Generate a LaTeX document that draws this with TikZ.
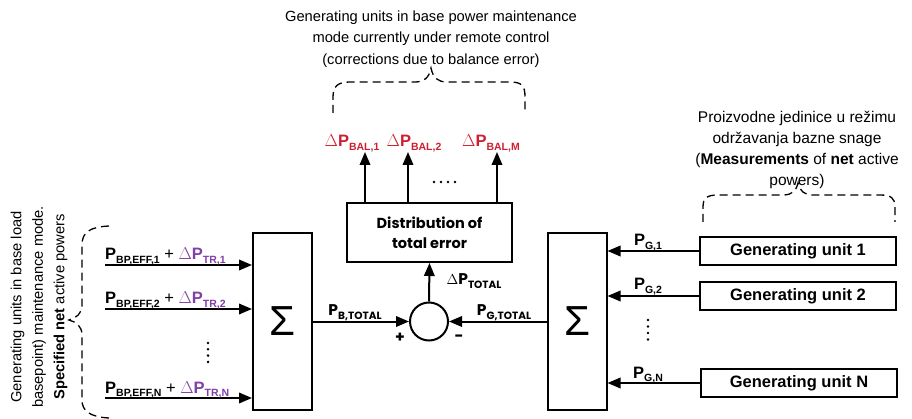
\documentclass[tikz,border=0pt]{standalone}
\usepackage{fontspec}
\setmainfont{Liberation Sans}
\newfontfamily\gothic{Poppins}
\usetikzlibrary{arrows.meta,positioning,calc}
\definecolor{balred}{RGB}{204,32,48}
\definecolor{trpurple}{RGB}{128,64,168}
\newcommand{\lsub}[1]{\raisebox{-0.45ex}{\fontsize{10.5}{11}\selectfont\bfseries #1}}
\newcommand{\sigP}[1]{\textbf{P}\lsub{#1}}
\newcommand{\dP}[1]{$\Delta$\textbf{P}\lsub{#1}}
\tikzset{
  sumbox/.style={draw, line width=2pt, minimum width=59pt, minimum height=177pt,
                 inner sep=0pt, font=\fontsize{42}{42}\selectfont},
  unitbox/.style={draw, line width=2pt, minimum width=196pt, minimum height=28pt,
                  inner sep=0pt, font=\fontsize{16.5}{18}\selectfont\bfseries},
  distbox/.style={draw, line width=2pt, minimum width=165pt, minimum height=59pt,
                  inner sep=0pt, align=center, font=\fontsize{14.5}{20}\selectfont\gothic\bfseries},
  errnode/.style={draw, circle, line width=2pt, minimum size=38pt, inner sep=0pt},
  sigarrow/.style={line width=2pt, -{Triangle[length=13pt,width=10.5pt]}},
  brace/.style={line width=1.3pt, dash pattern=on 8pt off 5pt},
  lbl/.style={font=\fontsize{16.5}{18}\selectfont, inner sep=0pt},
  glbl/.style={font=\fontsize{15.5}{17}\selectfont\gothic\bfseries, inner sep=0pt},
  note/.style={font=\fontsize{14.7}{21.5}\selectfont, align=center, inner sep=0pt},
}
\begin{document}
\begin{tikzpicture}[x=1pt, y=-1pt]
  \useasboundingbox (0,0) rectangle (912,419);
  % Summing blocks and comparator
  \node[sumbox] (lsum) at (282.5,321.5) {Σ};
  \node[sumbox] (rsum) at (577,321.5) {Σ};
  \node[errnode] (err) at (429,321.5) {};
  \node[distbox] (dist) at (429.5,232.5) {Distribution of\\total error};
  % Generating units
  \node[unitbox] (u1) at (798,251) {Generating unit 1};
  \node[unitbox] (u2) at (798,296) {Generating unit 2};
  \node[unitbox] (uN) at (799,383) {Generating unit N};
  \draw[sigarrow] (u1.west) -- (u1.west -| rsum.east);
  \draw[sigarrow] (u2.west) -- (u2.west -| rsum.east);
  \draw[sigarrow] (uN.west) -- (uN.west -| rsum.east);
  \node[lbl, anchor=base] (pg1) at (648,246) {\sigP{G,1}};
  \node[lbl, anchor=base] (pg2) at (648,290) {\sigP{G,2}};
  \node[lbl, anchor=base] (pgN) at (648,378) {\sigP{G,N}};
  \foreach \i in {0,...,3} \fill (648,320+\i*6.5) circle (1.4pt);
  % Base point inputs
  \coordinate (in1) at (105,265);
  \coordinate (in2) at (105,309);
  \coordinate (inN) at (105,398);
  \draw[sigarrow] (in1) -- (in1 -| lsum.west);
  \draw[sigarrow] (in2) -- (in2 -| lsum.west);
  \draw[sigarrow] (inN) -- (inN -| lsum.west);
  \node[lbl, anchor=base west] (pbp1) at (105,260) {\sigP{BP,EFF,1} + \textcolor{trpurple}{\dP{TR,1}}};
  \node[lbl, anchor=base west] (pbp2) at (105,304) {\sigP{BP,EFF,2} + \textcolor{trpurple}{\dP{TR,2}}};
  \node[lbl, anchor=base west] (pbpN) at (105,393) {\sigP{BP,EFF,N} + \textcolor{trpurple}{\dP{TR,N}}};
  \foreach \i in {0,...,3} \fill (208,343+\i*6.3) circle (1.4pt);
  % Balance error
  \draw[sigarrow] (lsum.east) -- (err.west);
  \draw[sigarrow] (rsum.west) -- (err.east);
  \draw[sigarrow] (err.north) -- (dist.south);
  \node[glbl, anchor=base] (pbt) at (355,316) {P\lsub{B,TOTAL}};
  \node[glbl, anchor=base] (pgt) at (504,316) {P\lsub{G,TOTAL}};
  \node[glbl, anchor=base] (dpt) at (474,285) {$\Delta$P\lsub{TOTAL}};
  \node[glbl] (plus) at (400,338) {+};
  \node[glbl] (minus) at (459,338) {-};
  % Corrections
  \coordinate (bal1) at (365,152);
  \coordinate (bal2) at (408,152);
  \coordinate (balM) at (497,152);
  \draw[sigarrow] (bal1 |- dist.north) -- (bal1);
  \draw[sigarrow] (bal2 |- dist.north) -- (bal2);
  \draw[sigarrow] (balM |- dist.north) -- (balM);
  \node[lbl, anchor=base, text=balred] (dbal1) at (352,147) {\dP{BAL,1}};
  \node[lbl, anchor=base, text=balred] (dbal2) at (414,147) {\dP{BAL,2}};
  \node[lbl, anchor=base, text=balred] (dbalM) at (491,147) {\dP{BAL,M}};
  \foreach \i in {0,...,3} \fill (434+\i*7,182) circle (1.4pt);
  % Dashed braces
  \draw[brace] (333,113) -- (333,97) .. controls (333,86) and (338,82) .. (350,82)
    -- (415,82) .. controls (424,82) and (429,78) .. (431,68)
    .. controls (433,78) and (438,82) .. (447,82) -- (510,82)
    .. controls (522,82) and (525,86) .. (525,97) -- (525,113);
  \draw[brace] (703,222) -- (703,207) .. controls (703,198) and (707,195) .. (718,195)
    -- (783,195) .. controls (792,195) and (796,191) .. (798,183)
    .. controls (800,191) and (804,195) .. (813,195) -- (880,195)
    .. controls (891,195) and (895,198) .. (895,207) -- (895,222);
  \draw[brace] (109,226) .. controls (90,227) and (82,232) .. (82,245) -- (82,305)
    .. controls (82,314) and (76,318) .. (69,320)
    .. controls (76,322) and (82,326) .. (82,335) -- (82,400)
    .. controls (82,411) and (90,417) .. (109,418);
  % Notes
  \node[note] (topnote) at (431,39) {Generating units in base power maintenance\\
    mode currently under remote control\\(corrections due to balance error)};
  \node[note, font=\fontsize{15.5}{21}\selectfont] (rnote) at (797,150) {Proizvodne jedinice u režimu\\
    održavanja bazne snage\\(\textbf{Measurements} of \textbf{net} active\\powers)};
  \node[note, rotate=90] (lnote) at (39,307) {Generating units in base load\\
    basepoint) maintenance mode.\\\textbf{Specified net} active powers};
\end{tikzpicture}
\end{document}
